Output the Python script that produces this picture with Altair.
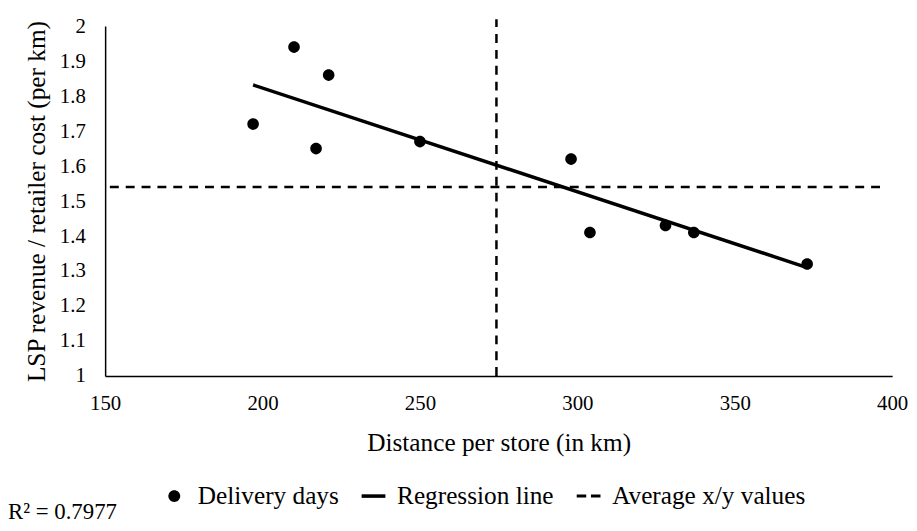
import altair as alt
import pandas as pd

# Data
dist = [197, 210, 221, 217, 250, 298, 304, 328, 337, 373]
ratio = [1.72, 1.94, 1.86, 1.65, 1.67, 1.62, 1.41, 1.43, 1.41, 1.32]
reg_x = [197, 373]
reg_y = [1.832, 1.31]
avg_x = 274.3
avg_y = 1.54
series = ["Delivery days", "Regression line", "Average x/y values"]
x_ticks = [150, 200, 250, 300, 350, 400]
y_ticks = [1, 1.1, 1.2, 1.3, 1.4, 1.5, 1.6, 1.7, 1.8, 1.9, 2]

FONT = "Times New Roman, Liberation Serif, DejaVu Serif, serif"

pts = pd.DataFrame({"x": dist, "y": ratio, "series": series[0]})
reg = pd.DataFrame({"x": reg_x, "y": reg_y, "grp": "r"})
avg = pd.DataFrame({
    "x": [avg_x, avg_x, 151.5, 397],
    "y": [1.0, 2.02, avg_y, avg_y],
    "grp": ["v", "v", "h", "h"],
})

xscale = alt.Scale(domain=[150, 400], nice=False, zero=False)
yscale = alt.Scale(domain=[1, 2], nice=False, zero=False)

xaxis = alt.Axis(values=x_ticks, ticks=False, grid=False, domainColor="black",
                 domainWidth=1.5, labelPadding=17, titlePadding=17, labelOverlap=False,
                 labelFlush=False, title="Distance per store (in km)")
yaxis = alt.Axis(values=y_ticks, ticks=False, grid=False, domainColor="black",
                 domainWidth=1.5, labelPadding=20, titlePadding=10, format=".1~f",
                 labelOverlap=False, labelFlush=False,
                 title="LSP revenue / retailer cost (per km)")

X = alt.X("x:Q", scale=xscale, axis=xaxis)
Y = alt.Y("y:Q", scale=yscale, axis=yaxis)

# legend symbol shapes (unit box -1..1): dot, solid bar, dashed bar
circle_path = "M-0.5,0A0.5,0.5,0,1,0,0.5,0A0.5,0.5,0,1,0,-0.5,0Z"
solid_path = "M-1,-0.15H1V0.15H-1Z"
dash_path = "M-1,-0.13H-0.2V0.13H-1Z M0.2,-0.13H1V0.13H0.2Z"

leg = alt.Legend(title=None, orient="none", direction="horizontal",
                 legendX=57, legendY=461, columnPadding=22, labelFontSize=25.5,
                 labelFont=FONT, labelColor="black", symbolSize=576,
                 symbolFillColor="black", symbolStrokeWidth=0, labelOffset=11,
                 symbolOpacity=1, labelLimit=400)

shape_scale = alt.Scale(domain=series, range=[circle_path, solid_path, dash_path])

avg_lines = alt.Chart(avg).mark_line(color="black", strokeWidth=2.5, strokeDash=[9, 7]).encode(
    x=X, y=Y, detail="grp:N",
)

reg_line = alt.Chart(reg).mark_line(color="black", strokeWidth=3.5).encode(
    x=X, y=Y,
)

points = alt.Chart(pts).mark_point(filled=True, size=548, fill="black",
                                   strokeWidth=0, opacity=1).encode(
    x=X, y=Y,
    shape=alt.Shape("series:N", scale=shape_scale, legend=leg),
)

r2 = alt.Chart(pd.DataFrame({"t": ["R² = 0.7977"]})).mark_text(
    align="left", baseline="alphabetic", font=FONT, fontSize=23, color="black"
).encode(text="t:N", x=alt.value(-98), y=alt.value(497))

chart = alt.layer(avg_lines, reg_line, points, r2).properties(
    width=794, height=353,
    autosize=alt.AutoSizeParams(type="none"),
    padding={"left": 98, "top": 16, "right": 17, "bottom": 146},
).configure_axis(
    labelFont=FONT, titleFont=FONT, labelFontSize=21, titleFontSize=25.5,
    labelColor="black", titleColor="black", titleFontWeight="normal",
    labelOverlap=False,
).configure_legend(
    labelFont=FONT
).configure_text(font=FONT).configure_view(stroke=None)

chart.save("out.html", embed_options={"renderer": "svg", "actions": False})
